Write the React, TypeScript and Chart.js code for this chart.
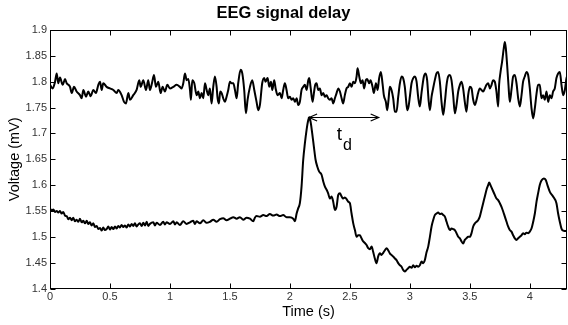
import React, { useEffect, useRef } from "react";
import { Chart, registerables } from "chart.js";

Chart.register(...registerables);

const chartTitle = "EEG signal delay";
const xTitle = "Time (s)";
const yTitle = "Voltage (mV)";
const xMin = 0;
const xMax = 4.31;
const xStep = 0.5;
const yMin = 1.4;
const yMax = 1.9;
const yStep = 0.05;

const upperTime = [
  0, 0.022, 0.042, 0.056, 0.069, 0.083, 0.106, 0.125, 0.139, 0.167, 0.181, 0.2, 0.222, 0.25, 0.264, 0.278, 0.3, 0.319, 0.339, 0.361,
  0.383, 0.403, 0.417, 0.431, 0.444, 0.472, 0.5, 0.528, 0.556, 0.569, 0.597, 0.617, 0.633, 0.653, 0.667, 0.694, 0.722, 0.744, 0.756, 0.778,
  0.8, 0.819, 0.833, 0.85, 0.867, 0.883, 0.903, 0.922, 0.939, 0.958, 0.978, 1.0, 1.028, 1.056, 1.083,
  1.097, 1.111, 1.125, 1.139, 1.153, 1.167, 1.175, 1.186, 1.203, 1.222, 1.236, 1.25, 1.264, 1.278, 1.292, 1.306, 1.319, 1.333, 1.347, 1.361,
  1.375, 1.389, 1.397, 1.408, 1.419, 1.431, 1.444, 1.458, 1.472, 1.486, 1.5, 1.514, 1.528, 1.542, 1.556, 1.569, 1.589, 1.603, 1.619, 1.633,
  1.647, 1.667, 1.686, 1.703, 1.722, 1.736, 1.75, 1.769, 1.786, 1.797, 1.814, 1.828, 1.842, 1.853, 1.869, 1.881, 1.897, 1.917, 1.931, 1.944,
  1.958, 1.972, 1.986, 2.0, 2.014, 2.028, 2.042, 2.056, 2.069, 2.083,
  2.097, 2.111, 2.125, 2.139, 2.153, 2.161, 2.172, 2.189, 2.2, 2.211, 2.222, 2.236, 2.25, 2.264, 2.278, 2.292, 2.306, 2.319, 2.333, 2.347,
  2.361, 2.375, 2.389, 2.403, 2.417, 2.431, 2.444, 2.458, 2.472, 2.486, 2.5, 2.514, 2.528, 2.542, 2.556, 2.564, 2.578, 2.592, 2.606, 2.619,
  2.633, 2.644, 2.661, 2.672, 2.689, 2.7, 2.717, 2.731, 2.744, 2.758, 2.772, 2.783, 2.8, 2.811, 2.822, 2.833, 2.847, 2.861, 2.875, 2.889,
  2.903, 2.917, 2.931, 2.944, 2.958, 2.967, 2.978, 2.989, 3.0, 3.014, 3.028, 3.042, 3.056, 3.069, 3.083, 3.097, 3.117, 3.131, 3.144, 3.156, 3.167,
  3.181, 3.194, 3.208, 3.222, 3.236, 3.25, 3.264, 3.278, 3.292, 3.306, 3.319, 3.333, 3.347, 3.361, 3.375, 3.389, 3.403, 3.417, 3.431, 3.444,
  3.458, 3.472, 3.486, 3.5, 3.514, 3.528, 3.542, 3.556, 3.569, 3.583, 3.597, 3.611, 3.625, 3.639, 3.653, 3.667, 3.681, 3.694, 3.708, 3.722,
  3.736, 3.744, 3.756, 3.769, 3.783, 3.792, 3.8, 3.811, 3.822, 3.833, 3.847, 3.861, 3.875, 3.889, 3.903, 3.917, 3.931, 3.944, 3.958, 3.972,
  3.986, 4.0, 4.014, 4.028, 4.042, 4.056, 4.069, 4.083, 4.097, 4.111, 4.125, 4.139, 4.153, 4.167, 4.181, 4.194, 4.208, 4.222, 4.236, 4.25,
  4.264, 4.278, 4.292, 4.306, 4.317,
];
const upperVoltage = [
  1.794, 1.787, 1.8, 1.816, 1.797, 1.808, 1.794, 1.805, 1.797, 1.79, 1.778, 1.79, 1.781, 1.774, 1.768, 1.784, 1.771, 1.781, 1.772, 1.784,
  1.778, 1.794, 1.8, 1.784, 1.797, 1.79, 1.787, 1.784, 1.778, 1.784, 1.774, 1.761, 1.758, 1.778, 1.765, 1.774, 1.784, 1.803, 1.79, 1.803,
  1.784, 1.803, 1.784, 1.797, 1.813, 1.79, 1.8, 1.778, 1.79, 1.781, 1.794, 1.787, 1.79, 1.794, 1.79,
  1.787, 1.797, 1.816, 1.803, 1.805, 1.784, 1.765, 1.803, 1.797, 1.774, 1.781, 1.768, 1.778, 1.768, 1.797, 1.784, 1.774, 1.787, 1.758, 1.79,
  1.81, 1.79, 1.768, 1.758, 1.781, 1.778, 1.768, 1.761, 1.771, 1.784, 1.8, 1.797, 1.797, 1.784, 1.768, 1.797, 1.823, 1.816, 1.784, 1.739,
  1.765, 1.79, 1.803, 1.784, 1.761, 1.745, 1.755, 1.797, 1.807, 1.8, 1.807, 1.79, 1.8, 1.784, 1.803, 1.787, 1.774, 1.778, 1.768, 1.784,
  1.797, 1.784, 1.768, 1.771, 1.765, 1.768, 1.761, 1.768, 1.755, 1.761,
  1.784, 1.79, 1.794, 1.784, 1.803, 1.807, 1.79, 1.761, 1.778, 1.794, 1.797, 1.784, 1.787, 1.774, 1.778, 1.771, 1.774, 1.768, 1.765, 1.768,
  1.758, 1.768, 1.778, 1.787, 1.781, 1.768, 1.758, 1.774, 1.787, 1.79, 1.797, 1.79, 1.8, 1.797, 1.81, 1.826, 1.81, 1.797, 1.803, 1.787,
  1.803, 1.805, 1.797, 1.803, 1.79, 1.778, 1.797, 1.784, 1.807, 1.819, 1.797, 1.774, 1.761, 1.745, 1.765, 1.79, 1.784, 1.768, 1.742, 1.742,
  1.771, 1.797, 1.81, 1.807, 1.79, 1.768, 1.745, 1.752, 1.771, 1.797, 1.807, 1.81, 1.8, 1.771, 1.752, 1.778, 1.81, 1.816, 1.803, 1.765, 1.745,
  1.771, 1.787, 1.803, 1.816, 1.819, 1.8, 1.761, 1.736, 1.761, 1.794, 1.81, 1.813, 1.803, 1.774, 1.739, 1.755, 1.781, 1.794, 1.8, 1.787,
  1.761, 1.742, 1.774, 1.79, 1.787, 1.765, 1.755, 1.765, 1.778, 1.787, 1.784, 1.781, 1.787, 1.794, 1.797, 1.787, 1.794, 1.803, 1.8, 1.781,
  1.752, 1.794, 1.819, 1.839, 1.865, 1.877, 1.865, 1.832, 1.794, 1.761, 1.784, 1.81, 1.813, 1.797, 1.768, 1.752, 1.774, 1.8, 1.81, 1.819,
  1.813, 1.787, 1.749, 1.729, 1.749, 1.777, 1.794, 1.794, 1.768, 1.774, 1.765, 1.781, 1.761, 1.774, 1.768, 1.781, 1.787, 1.807, 1.816, 1.819,
  1.794, 1.774, 1.784, 1.807, 1.813,
];

const lowerTime = [
  0, 0.014, 0.028, 0.042, 0.056, 0.069, 0.083, 0.097, 0.111, 0.125, 0.139, 0.153, 0.167, 0.181, 0.194, 0.208, 0.222, 0.236, 0.25, 0.264,
  0.278, 0.292, 0.306, 0.319, 0.333, 0.347, 0.361, 0.375, 0.389, 0.403, 0.417, 0.431, 0.444, 0.458, 0.472, 0.486, 0.5, 0.514, 0.528, 0.542,
  0.556, 0.569, 0.583, 0.597, 0.611, 0.625, 0.639, 0.653, 0.667, 0.681, 0.694, 0.708, 0.722, 0.736, 0.75, 0.764, 0.778, 0.792, 0.806, 0.819,
  0.833, 0.861, 0.875, 0.889, 0.917, 0.944, 0.958, 0.972, 1.0, 1.028, 1.042, 1.056, 1.083, 1.111, 1.139, 1.167, 1.194, 1.208, 1.222, 1.25,
  1.278, 1.306, 1.333, 1.361, 1.389, 1.417, 1.444, 1.472, 1.5, 1.528, 1.556, 1.583, 1.611, 1.639, 1.667, 1.694, 1.708, 1.722, 1.75, 1.778,
  1.806, 1.833, 1.861, 1.889, 1.917, 1.944, 1.972, 2.0, 2.028, 2.042, 2.056, 2.069, 2.083, 2.097, 2.111, 2.125, 2.139, 2.153, 2.161, 2.172,
  2.186, 2.2, 2.214, 2.228, 2.244, 2.264, 2.278, 2.292, 2.306, 2.319, 2.333, 2.347, 2.361, 2.375, 2.389, 2.403, 2.417, 2.431, 2.444, 2.458,
  2.472, 2.486, 2.5, 2.514, 2.528, 2.542, 2.556, 2.569, 2.583, 2.597, 2.611, 2.625, 2.639, 2.653, 2.667, 2.681, 2.694, 2.708, 2.722, 2.736,
  2.75, 2.764, 2.778, 2.792, 2.806, 2.819, 2.833, 2.847, 2.861, 2.875, 2.889, 2.903, 2.917, 2.931, 2.944, 2.958, 2.972, 2.986, 3.0, 3.014,
  3.028, 3.042, 3.056, 3.069, 3.083, 3.097, 3.111, 3.125, 3.139, 3.153, 3.167, 3.181, 3.194, 3.208, 3.222, 3.236, 3.25, 3.264, 3.278, 3.292,
  3.306, 3.319, 3.333, 3.347, 3.361, 3.375, 3.389, 3.403, 3.417, 3.431, 3.444, 3.458, 3.472, 3.486, 3.5, 3.514, 3.528, 3.542, 3.556, 3.569,
  3.583, 3.597, 3.611, 3.625, 3.639, 3.653, 3.661, 3.672, 3.689, 3.708, 3.722, 3.736, 3.75, 3.764, 3.778, 3.792, 3.806, 3.819, 3.833, 3.847,
  3.861, 3.875, 3.889, 3.903, 3.917, 3.931, 3.944, 3.958, 3.972, 3.986, 4.0, 4.014, 4.028, 4.042, 4.056, 4.069, 4.083, 4.097, 4.117, 4.133,
  4.147, 4.167, 4.194, 4.222, 4.236, 4.25, 4.264, 4.278, 4.306, 4.317,
];
const lowerVoltage = [
  1.555, 1.551, 1.553, 1.548, 1.55, 1.547, 1.55, 1.545, 1.548, 1.541, 1.54, 1.534, 1.537, 1.532, 1.537, 1.53, 1.533, 1.529, 1.535, 1.528,
  1.531, 1.526, 1.531, 1.525, 1.528, 1.522, 1.526, 1.519, 1.521, 1.515, 1.517, 1.512, 1.518, 1.513, 1.515, 1.52, 1.514, 1.519, 1.515, 1.52,
  1.516, 1.521, 1.518, 1.523, 1.519, 1.522, 1.518, 1.524, 1.52, 1.525, 1.521, 1.526, 1.52, 1.524, 1.526, 1.521, 1.527, 1.522, 1.529, 1.521,
  1.525, 1.528, 1.522, 1.527, 1.523, 1.529, 1.524, 1.528, 1.525, 1.53, 1.524, 1.528, 1.523, 1.53, 1.525, 1.528, 1.531, 1.525, 1.53, 1.526,
  1.532, 1.527, 1.529, 1.533, 1.529, 1.534, 1.536, 1.532, 1.535, 1.538, 1.535, 1.538, 1.533, 1.537, 1.535, 1.53, 1.537, 1.54, 1.539, 1.542,
  1.54, 1.544, 1.541, 1.543, 1.54, 1.542, 1.538, 1.538, 1.535, 1.53, 1.545, 1.555, 1.565, 1.597, 1.649, 1.681, 1.707, 1.726, 1.731, 1.723,
  1.7, 1.674, 1.649, 1.636, 1.626, 1.62, 1.607, 1.597, 1.591, 1.584, 1.574, 1.578, 1.568, 1.552, 1.558, 1.581, 1.584, 1.578, 1.574, 1.576,
  1.573, 1.568, 1.565, 1.545, 1.526, 1.513, 1.5, 1.503, 1.503, 1.497, 1.491, 1.488, 1.484, 1.478, 1.476, 1.481, 1.471, 1.458, 1.449, 1.462,
  1.468, 1.465, 1.469, 1.474, 1.478, 1.474, 1.468, 1.465, 1.462, 1.458, 1.455, 1.449, 1.445, 1.442, 1.436, 1.433, 1.436, 1.439, 1.442, 1.44,
  1.445, 1.441, 1.444, 1.442, 1.445, 1.452, 1.449, 1.455, 1.47, 1.481, 1.5, 1.52, 1.532, 1.542, 1.545, 1.547, 1.544, 1.545, 1.542, 1.539,
  1.529, 1.52, 1.513, 1.516, 1.515, 1.513, 1.507, 1.5, 1.497, 1.491, 1.487, 1.494, 1.497, 1.5, 1.5, 1.507, 1.52, 1.526, 1.529, 1.532,
  1.539, 1.552, 1.565, 1.578, 1.591, 1.6, 1.605, 1.6, 1.591, 1.581, 1.574, 1.571, 1.565, 1.558, 1.549, 1.539, 1.529, 1.52, 1.513, 1.51,
  1.503, 1.497, 1.494, 1.497, 1.5, 1.503, 1.507, 1.505, 1.508, 1.507, 1.51, 1.516, 1.529, 1.545, 1.568, 1.584, 1.6, 1.609, 1.613, 1.61,
  1.6, 1.587, 1.578, 1.565, 1.545, 1.529, 1.516, 1.512, 1.511, 1.511,
];

const delayStart = 2.16;
const delayEnd = 2.74;
const delayLevel = 1.732;
const delayLabel = "t";
const delaySubscript = "d";
const delayLabelTime = 2.39;
const delayLabelLevel = 1.688;

const FONT = '"Liberation Sans", Arial, Helvetica, sans-serif';

const matlabFrame = {
  id: "matlabFrame",
  afterDatasetsDraw(chart: any) {
    const { ctx, chartArea: a, scales } = chart;
    const xs = scales.x;
    const ys = scales.y;
    const L = Math.round(a.left) + 0.5;
    const R = Math.round(a.right) - 0.5;
    const T = Math.round(a.top) + 0.5;
    const B = Math.round(a.bottom) - 0.5;
    ctx.save();
    ctx.strokeStyle = "#000";
    ctx.lineWidth = 1;
    ctx.strokeRect(L, T, R - L, B - T);
    const tl = 5;
    ctx.beginPath();
    for (const t of xs.ticks) {
      const px = Math.round(xs.getPixelForValue(t.value)) + 0.5;
      ctx.moveTo(px, B);
      ctx.lineTo(px, B - tl);
      ctx.moveTo(px, T);
      ctx.lineTo(px, T + tl);
    }
    for (const t of ys.ticks) {
      const py = Math.round(ys.getPixelForValue(t.value)) + 0.5;
      ctx.moveTo(L, py);
      ctx.lineTo(L + tl, py);
      ctx.moveTo(R, py);
      ctx.lineTo(R - tl, py);
    }
    ctx.stroke();

    // delay arrow
    const x1 = xs.getPixelForValue(delayStart);
    const x2 = xs.getPixelForValue(delayEnd);
    const yy = Math.round(ys.getPixelForValue(delayLevel)) + 0.5;
    ctx.beginPath();
    ctx.moveTo(x1, yy);
    ctx.lineTo(x2, yy);
    ctx.moveTo(x1 + 8, yy - 3.5);
    ctx.lineTo(x1, yy);
    ctx.lineTo(x1 + 8, yy + 3.5);
    ctx.moveTo(x2 - 8, yy - 3.5);
    ctx.lineTo(x2, yy);
    ctx.lineTo(x2 - 8, yy + 3.5);
    ctx.lineWidth = 1.2;
    ctx.stroke();

    const lx = xs.getPixelForValue(delayLabelTime);
    const ly = ys.getPixelForValue(delayLabelLevel);
    ctx.fillStyle = "#000";
    ctx.textAlign = "left";
    ctx.textBaseline = "alphabetic";
    ctx.font = `19px ${FONT}`;
    ctx.fillText(delayLabel, lx, ly);
    const w = ctx.measureText(delayLabel).width;
    ctx.font = `16px ${FONT}`;
    ctx.fillText(delaySubscript, lx + w + 1, ly + 10);
    ctx.restore();
  },
};

const fmt = (v: any) => String(+Number(v).toFixed(2));

export default function App() {
  const ref = useRef<HTMLCanvasElement | null>(null);
  useEffect(() => {
    if (!ref.current) return;
    const upper = upperTime.map((t, i) => ({ x: t, y: upperVoltage[i] }));
    const lower = lowerTime.map((t, i) => ({ x: t, y: lowerVoltage[i] }));
    const chart = new Chart(ref.current, {
      type: "line",
      data: {
        datasets: [
          { data: upper, borderColor: "#000", borderWidth: 2, pointRadius: 0, cubicInterpolationMode: "monotone", fill: false },
          { data: lower, borderColor: "#000", borderWidth: 2, pointRadius: 0, cubicInterpolationMode: "monotone", fill: false },
        ],
      },
      options: {
        responsive: false,
        animation: false,
        devicePixelRatio: 1,
        layout: { padding: { left: 0, right: 1, top: 0, bottom: 0 } },
        plugins: {
          legend: { display: false },
          tooltip: { enabled: false },
          title: {
            display: true,
            text: chartTitle,
            color: "#000",
            font: { family: FONT, size: 16.5, weight: "bold" },
            padding: { top: 4, bottom: 6.2 },
          },
        },
        scales: {
          x: {
            type: "linear",
            min: xMin,
            max: xMax,
            grid: { display: false, drawTicks: false },
            border: { display: false },
            ticks: {
              stepSize: xStep,
              includeBounds: false,
              autoSkip: false,
              maxRotation: 0,
              color: "#333",
              font: { family: FONT, size: 11 },
              padding: 2,
              callback: fmt,
            },
            title: {
              display: true,
              text: xTitle,
              color: "#000",
              font: { family: FONT, size: 14.5 },
              padding: { top: 0, bottom: 4 },
            },
            afterFit: (s: any) => {
              s.height = 36.5;
            },
          },
          y: {
            type: "linear",
            min: yMin,
            max: yMax,
            grid: { display: false, drawTicks: false },
            border: { display: false },
            ticks: {
              stepSize: yStep,
              includeBounds: false,
              autoSkip: false,
              color: "#333",
              font: { family: FONT, size: 11 },
              padding: 3,
              callback: fmt,
            },
            title: {
              display: true,
              text: yTitle,
              color: "#000",
              font: { family: FONT, size: 14.5 },
              padding: { top: 6, bottom: 0 },
            },
            afterFit: (s: any) => {
              s.width = 50;
            },
          },
        },
      } as any,
      plugins: [matlabFrame],
    });
    return () => chart.destroy();
  }, []);
  return (
    <div style={{ position: "fixed", left: 0, top: 0, width: 568, height: 325, background: "#fff" }}>
      <canvas ref={ref} width={568} height={325} style={{ display: "block" }} />
    </div>
  );
}
